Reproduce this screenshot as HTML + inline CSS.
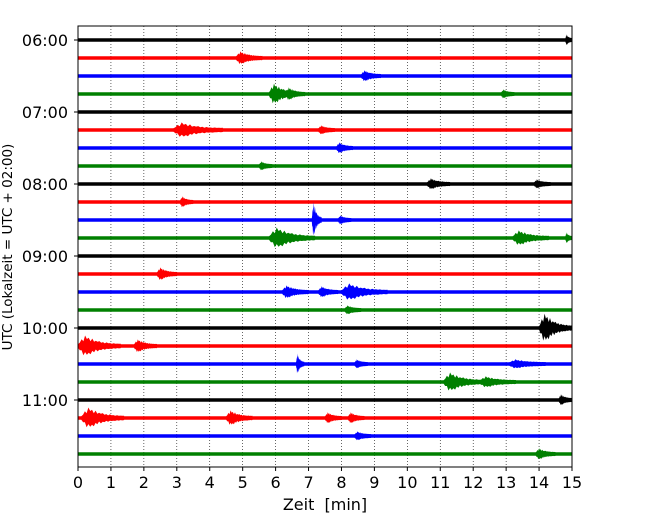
<!DOCTYPE html>
<html><head><meta charset="utf-8"><style>
body{margin:0;background:#fff;}
svg{display:block;font-family:"DejaVu Sans","Liberation Sans",sans-serif;}
</style></head><body>
<svg id="c" width="650" height="520"></svg>
<script>
const rowColors=["#000000","#ff0000","#0000ff","#008000"];
const hourLabels=["06:00","07:00","08:00","09:00","10:00","11:00"];
const xTicks=[0,1,2,3,4,5,6,7,8,9,10,11,12,13,14,15];
const rowCount=24;
// events: [row, startMinute, amplitude, durationMinutes]
const eventRows=[0,1,2,3,3,3,5,5,6,7,8,8,9,10,10,11,11,11,13,14,14,14,15,16,17,17,18,18,18,19,19,20,21,21,21,21,22,23];
const eventStart=[14.8,4.8,8.6,5.8,6.3,12.85,2.9,7.3,7.85,5.5,10.6,13.85,3.1,7.1,7.9,5.8,13.2,14.8,2.4,6.2,7.3,8.0,8.1,14.0,0.0,1.7,6.62,8.4,13.1,11.1,12.2,14.6,0.1,4.5,7.5,8.2,8.4,13.9];
const eventAmp=[4,5,4,9,5,3,6,3,4,3,4,3,4,17,3,9,6,4,5,5,4,7,3,13,9,5,9,3,3,8,4,4,9,6,4,4,3,4];
const eventDur=[0.3,0.8,0.6,0.9,0.6,0.4,1.5,0.5,0.5,0.4,0.7,0.5,0.4,0.3,0.4,1.4,1.1,0.2,0.6,0.8,0.6,1.4,0.5,1.0,1.3,0.7,0.25,0.4,1.1,1.2,1.1,0.4,1.3,0.8,0.5,0.5,0.5,0.6];

const NS="http://www.w3.org/2000/svg";
const svg=document.getElementById("c");
const L=78,R=572,T=26,B=467;
const xs=m=>L+(R-L)*m/15;
const ys=r=>40+r*18;
function mk(t,a,p){const e=document.createElementNS(NS,t);for(const k in a)e.setAttribute(k,a[k]);(p||svg).appendChild(e);return e;}

xTicks.forEach(v=>{
  const g=mk("line",{x1:xs(v),x2:xs(v),y1:T,y2:B,stroke:"#000","stroke-width":0.6,"stroke-dasharray":"1,2"});
  
  
});
for(let r=0;r<rowCount;r++){
  const l=mk("line",{x1:L,x2:R,y1:ys(r),y2:ys(r),stroke:rowColors[r%4],"stroke-width":3.6});
  
  
}
const jag=[1,0.55,0.9,0.4,1,0.6,0.85,0.45,1,0.5,0.8,0.65];
for(let i=0;i<eventRows.length;i++){
  const r=eventRows[i],y=ys(r),x0=xs(eventStart[i]),x1=xs(Math.min(15,eventStart[i]+eventDur[i]));
  const a=eventAmp[i],w=x1-x0;
  let top=[],bot=[];
  const n=24;
  for(let k=0;k<=n;k++){
    const t=k/n;const env=t<0.2?Math.sin(t/0.2*Math.PI/2):Math.exp(-(t-0.2)*3.5);
    const h=1.8+a*env*jag[k%12];
    const h2=1.8+a*env*jag[(k+5)%12];
    top.push((x0+w*t).toFixed(1)+","+(y-h).toFixed(1));
    bot.unshift((x0+w*t).toFixed(1)+","+(y+h2).toFixed(1));
  }
  const p=mk("polygon",{points:top.concat(bot).join(" "),fill:rowColors[r%4]});
  
  
}
const f=mk("rect",{x:L,y:T,width:R-L,height:B-T,fill:"none",stroke:"#000","stroke-width":1});


xTicks.forEach(v=>{
  mk("line",{x1:xs(v),x2:xs(v),y1:B,y2:B+4,stroke:"#000"});
  const t=mk("text",{x:xs(v),y:B+21,"text-anchor":"middle","font-size":16});
  t.textContent=v;
  
  
});
hourLabels.forEach((h,i)=>{
  const y=ys(i*4);
  mk("line",{x1:L-4,x2:L,y1:y,y2:y,stroke:"#000"});
  const t=mk("text",{x:L-10,y:y+6,"text-anchor":"end","font-size":16});
  t.textContent=h;
  
  
});
const xt=mk("text",{x:325,y:510,"text-anchor":"middle","font-size":16});
xt.textContent="Zeit\u00a0\u00a0[min]";


const yt=mk("text",{x:0,y:0,"text-anchor":"middle","font-size":13.5,transform:"translate(12,247) rotate(-90)"});
yt.textContent="UTC (Lokalzeit = UTC + 02:00)";


</script>
</body></html>
